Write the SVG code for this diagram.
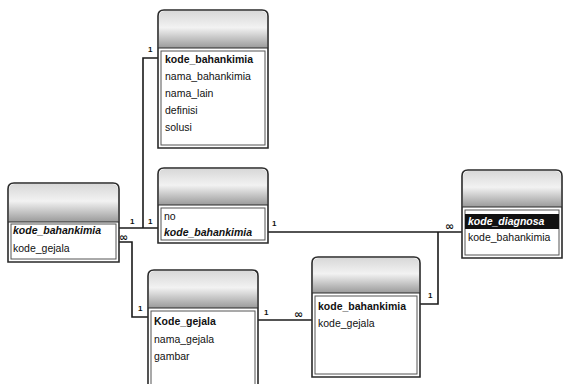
<svg xmlns="http://www.w3.org/2000/svg" width="567" height="384" viewBox="0 0 567 384">
<defs>
<linearGradient id="hg" x1="0" y1="0" x2="0" y2="1">
<stop offset="0" stop-color="#d8d8d8"/>
<stop offset="0.45" stop-color="#f2f2f2"/>
<stop offset="1" stop-color="#9a9a9a"/>
</linearGradient>
</defs>
<style>
.box{fill:#fff;stroke:#2a2a2a;stroke-width:1.6}
.hd{fill:url(#hg);stroke:none}
.hl{stroke:#2a2a2a;stroke-width:1.2}
.in{fill:none;stroke:#555;stroke-width:1}
.f{font-family:"Liberation Sans",Arial,sans-serif;font-size:10.5px;fill:#111}
.k{font-weight:bold}
.i{font-style:italic}
.c{fill:none;stroke:#1a1a1a;stroke-width:1.6}
.l{font-family:"Liberation Sans",Arial,sans-serif;font-size:8px;fill:#111;font-weight:bold}
.inf{font-family:"DejaVu Sans",sans-serif;font-size:11px;fill:#111;font-weight:bold}
</style>
<rect width="567" height="384" fill="#fff"/>
<g id="connectors">
<path class="c" d="M158,58 H143 V228"/>
<path class="c" d="M119,228 H158"/>
<path class="c" d="M119,242 H132 V317 H148"/>
<path class="c" d="M258,320 H312"/>
<path class="c" d="M268,232 H462"/>
<path class="c" d="M420,304 H438 V232"/>
<text class="l" x="148" y="52">1</text>
<text class="l" x="130" y="224">1</text>
<text class="l" x="148" y="224">1</text>
<text class="inf" x="119" y="241">∞</text>
<text class="l" x="138" y="311">1</text>
<text class="l" x="264" y="315">1</text>
<text class="inf" x="294" y="318">∞</text>
<text class="l" x="272" y="226">1</text>
<text class="inf" x="445" y="230">∞</text>
<text class="l" x="428" y="298">1</text>
</g>
<g id="bahankimia">
<path class="box" d="M158,148 V16 Q158,10 164,10 H262 Q268,10 268,16 V148 Z"/>
<path class="hd" d="M159,48 V17 Q159,11 165,11 H261 Q267,11 267,17 V48 Z"/>
<line class="hl" x1="158" y1="48" x2="268" y2="48"/>
<rect class="in" x="161" y="51" width="104" height="94"/>
<text class="f k" x="165" y="63">kode_bahankimia</text>
<text class="f" x="165" y="80">nama_bahankimia</text>
<text class="f" x="165" y="97">nama_lain</text>
<text class="f" x="165" y="114">definisi</text>
<text class="f" x="165" y="131">solusi</text>
</g>
<g id="relasi">
<path class="box" d="M8,262 V189 Q8,183 14,183 H113 Q119,183 119,189 V262 Z"/>
<path class="hd" d="M9,222 V190 Q9,184 15,184 H112 Q118,184 118,190 V222 Z"/>
<line class="hl" x1="8" y1="222" x2="119" y2="222"/>
<rect class="in" x="11" y="224" width="105" height="35"/>
<text class="f k i" x="13" y="234">kode_bahankimia</text>
<text class="f" x="13" y="252">kode_gejala</text>
</g>
<g id="tengah">
<path class="box" d="M158,243 V174 Q158,168 164,168 H262 Q268,168 268,174 V243 Z"/>
<path class="hd" d="M159,205 V175 Q159,169 165,169 H261 Q267,169 267,175 V205 Z"/>
<line class="hl" x1="158" y1="205" x2="268" y2="205"/>
<rect class="in" x="161" y="208" width="104" height="32"/>
<text class="f" x="164" y="220">no</text>
<text class="f k i" x="164" y="236">kode_bahankimia</text>
</g>
<g id="gejala">
<path class="box" d="M148,392 V276 Q148,270 154,270 H252 Q258,270 258,276 V392 Z"/>
<path class="hd" d="M149,308 V277 Q149,271 155,271 H251 Q257,271 257,277 V308 Z"/>
<line class="hl" x1="148" y1="308" x2="258" y2="308"/>
<rect class="in" x="151" y="311" width="104" height="80"/>
<text class="f k" x="154" y="325">Kode_gejala</text>
<text class="f" x="154" y="343">nama_gejala</text>
<text class="f" x="154" y="360">gambar</text>
</g>
<g id="bahan_gejala">
<path class="box" d="M312,377 V263 Q312,257 318,257 H414 Q420,257 420,263 V377 Z"/>
<path class="hd" d="M313,293 V264 Q313,258 319,258 H413 Q419,258 419,264 V293 Z"/>
<line class="hl" x1="312" y1="293" x2="420" y2="293"/>
<rect class="in" x="315" y="296" width="102" height="78"/>
<text class="f k" x="318" y="310">kode_bahankimia</text>
<text class="f" x="318" y="327">kode_gejala</text>
</g>
<g id="diagnosa">
<path class="box" d="M462,258 V176 Q462,170 468,170 H556 Q562,170 562,176 V258 Z"/>
<path class="hd" d="M463,207 V177 Q463,171 469,171 H555 Q561,171 561,177 V207 Z"/>
<line class="hl" x1="462" y1="207" x2="562" y2="207"/>
<rect class="in" x="465" y="210" width="94" height="45"/>
<rect x="465" y="214" width="94" height="15" fill="#111"/>
<text class="f k i" x="468" y="225" style="fill:#fff">kode_diagnosa</text>
<text class="f" x="468" y="241">kode_bahankimia</text>
</g>
</svg>
